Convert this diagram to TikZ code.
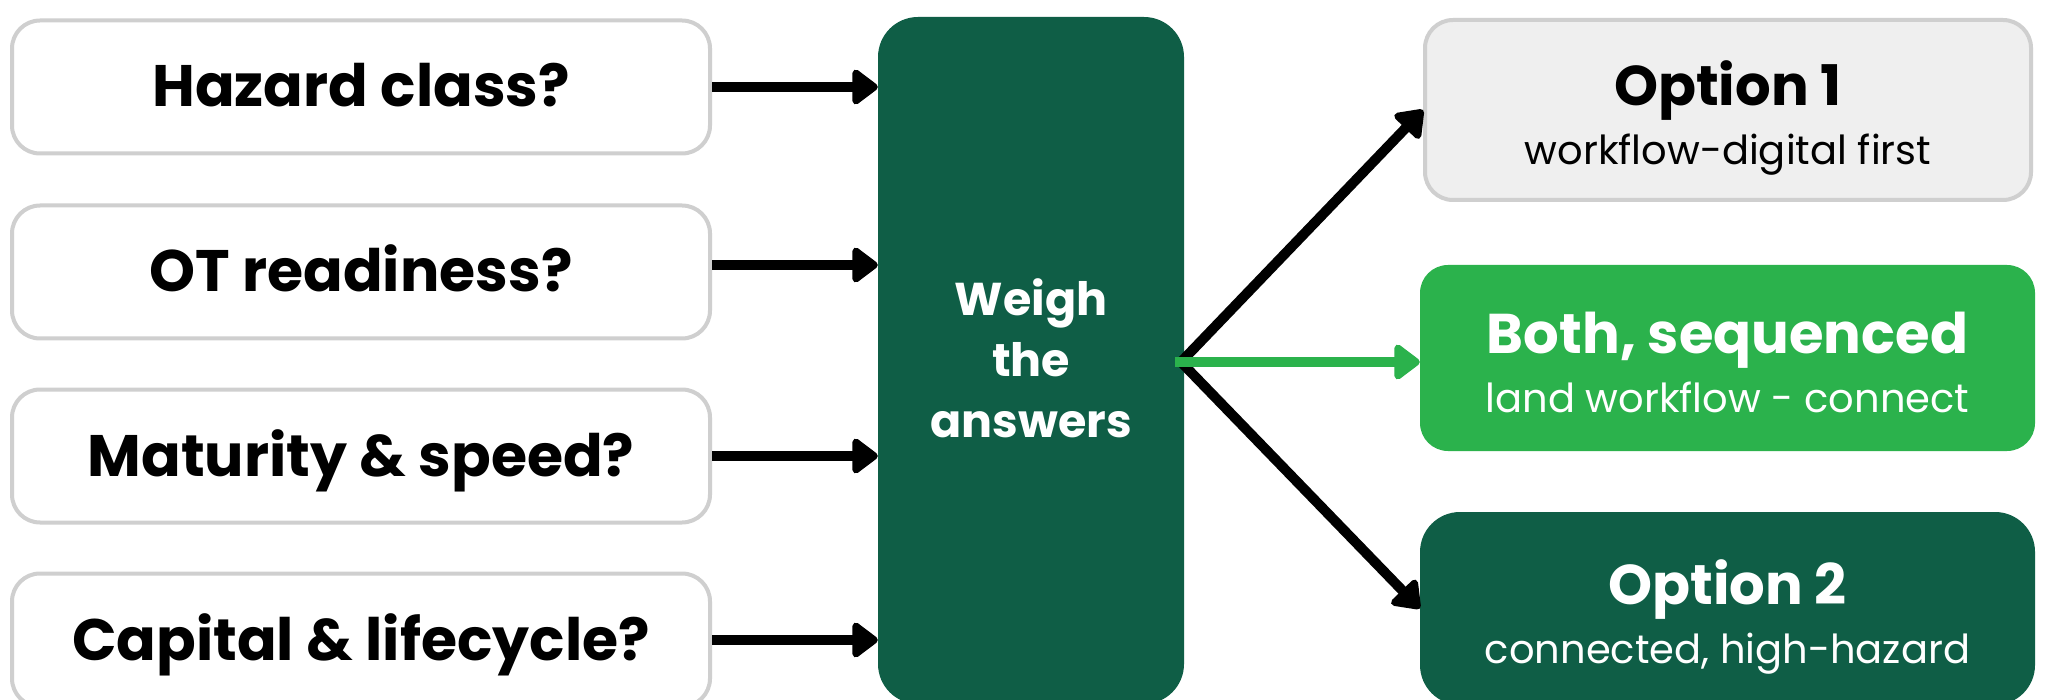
\documentclass[tikz,border=0pt]{standalone}
\usepackage{fontspec}
\setmainfont{Poppins}
\usetikzlibrary{arrows.meta,calc}
\definecolor{dkgreen}{HTML}{0F5E46}
\definecolor{ltgreen}{HTML}{2BB24C}
\definecolor{bordergray}{HTML}{CFCFCF}
\definecolor{fillgray}{HTML}{EFEFEF}
\tikzset{
  qbox/.style={draw=bordergray, line width=4pt, fill=white, rounded corners=28pt,
    minimum width=698pt, minimum height=133pt, inner sep=0pt},
  qtext/.style={anchor=base, inner sep=0pt, font=\fontsize{58.5}{62}\selectfont\bfseries},
  optbox/.style={rounded corners=28pt, inner sep=0pt, minimum width=610pt, minimum height=184pt},
  titletext/.style={anchor=base, inner sep=0pt, font=\fontsize{56}{60}\selectfont\bfseries},
  subtext/.style={anchor=base, inner sep=0pt, font=\fontsize{40}{44}\selectfont},
  arr/.style={line width=10pt, -{Triangle[length=28pt,width=40pt,round]}},
}
\begin{document}
\begin{tikzpicture}[x=1pt,y=-1pt]
\clip (0,0) rectangle (2047,700);
\fill[white] (0,0) rectangle (2047,700);
% left question boxes
\node[qbox] (b1) at (361,87) {};
\node[qbox] (b2) at (361,272) {};
\node[qbox] (b3) at (361,456) {};
\node[qbox] (b4) at (361,640) {};
\node[qtext] (t1) at ($(b1.center)+(0,20)$) {Hazard class?};
\node[qtext] (t2) at ($(b2.center)+(0,20)$) {OT readiness?};
\node[qtext] (t3) at ($(b3.center)+(0,20)$) {Maturity \& speed?};
\node[qtext] (t4) at ($(b4.center)+(0,20)$) {Capital \& lifecycle?};
% central box
\node[fill=dkgreen, rounded corners=40pt, minimum width=306pt, minimum height=687pt, inner sep=0pt] (w) at (1031,360.5) {};
\node[text=white, align=center, inner sep=0pt, font=\fontsize{46}{61}\selectfont\bfseries] (wt) at (1031,358) {Weigh\\the\\answers};
% right boxes
\node[optbox, draw=bordergray, line width=4pt, fill=fillgray, minimum width=606pt, minimum height=180pt] (o1) at (1728,110) {};
\node[optbox, fill=ltgreen, minimum width=615pt, minimum height=186pt] (both) at (1727.5,358) {};
\node[optbox, fill=dkgreen, rounded corners=40pt, minimum width=615pt, minimum height=193pt] (o2) at (1727.5,608.5) {};
\node[titletext] (o1t) at ($(o1.center)+(0,-4.5)$) {Option 1};
\node[subtext] (o1s) at ($(o1.center)+(0,54.5)$) {workflow-digital first};
\node[titletext, text=white] (botht) at ($(both.center)+(0,-4.5)$) {Both, sequenced};
\node[subtext, text=white] (boths) at ($(both.center)+(0,54.5)$) {land workflow - connect};
\node[titletext, text=white] (o2t) at ($(o2.center)+(0,-4.5)$) {Option 2};
\node[subtext, text=white] (o2s) at ($(o2.center)+(0,54.5)$) {connected, high-hazard};
% left arrows
\draw[arr] (b1.east) -- (b1.east -| w.west);
\draw[arr] ([yshift=7pt]b2.east) -- ([yshift=7pt]b2.east -| w.west);
\draw[arr] (b3.east) -- (b3.east -| w.west);
\draw[arr] (b4.east) -- (b4.east -| w.west);
% right arrows
\coordinate (hub) at (1181,362);
\coordinate (gstart) at (1175,362);
\draw[arr] (hub) -- (o1.west);
\draw[arr] (hub) -- (o2.west);
\draw[arr, ltgreen] (gstart) -- (gstart -| both.west);
\end{tikzpicture}
\end{document}
